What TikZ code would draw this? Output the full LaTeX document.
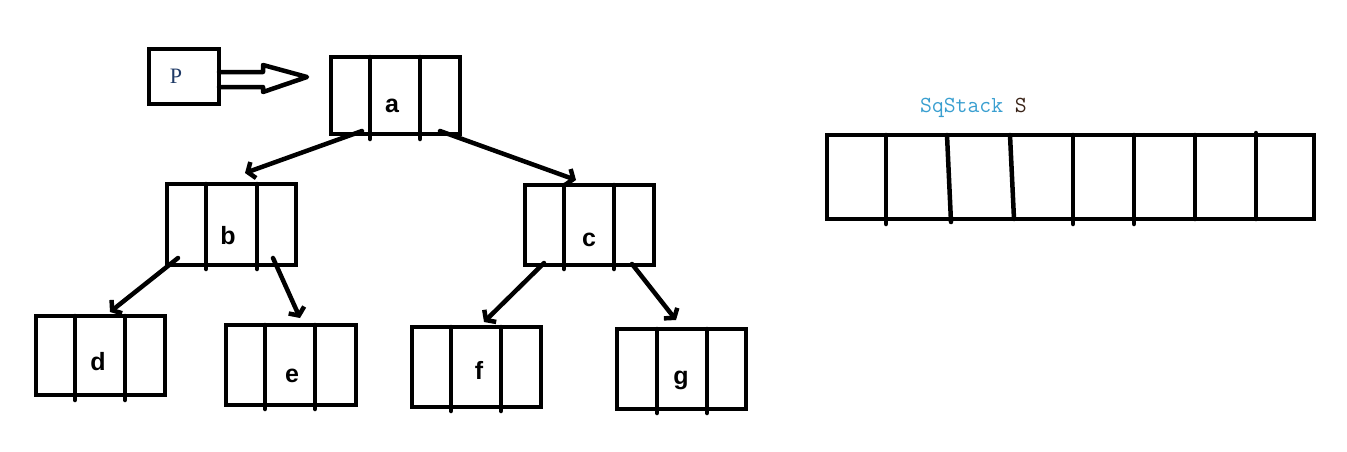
\documentclass[tikz,border=0pt]{standalone}
\usepackage{fontspec}
\setmainfont{Liberation Sans}
\newfontfamily\pfont{Liberation Serif}
\usetikzlibrary{arrows.meta}
\definecolor{stackblue}{HTML}{3A9FD0}
\definecolor{pblue}{HTML}{1F3A66}
\definecolor{sdark}{HTML}{3A2418}
\begin{document}
\begin{tikzpicture}[x=1pt,y=-1pt,
  cell/.style={draw, line width=4.5pt, inner sep=0pt, outer sep=0pt, rectangle},
  divline/.style={line width=4.5pt, line cap=round},
  lab/.style={font=\bfseries\fontsize{25}{27}\selectfont, inner sep=0pt},
  link/.style={line width=4.5pt, line cap=round, -{Straight Barb[length=6pt,width=17pt,line width=4.5pt]}}]
\useasboundingbox (0,0) rectangle (1347,451);
% P box and double arrow
\node[cell, minimum width=70pt, minimum height=55pt] (p) at (184,76.5) {};
\node[inner sep=0pt, text=pblue, font=\pfont\fontsize{22}{24}\selectfont] (plab) at (176,76) {P};
\draw[line width=4.5pt, line join=round, line cap=round] (p.east |- 0,72) -- (263,72) -- (263,65) -- (307,77) -- (263,92) -- (263,87) -- (p.east |- 0,87);
% node a
\node[cell, minimum width=129pt, minimum height=77pt] (a) at (395.5,95.5) {};
\draw[divline] (370,57) -- (370,139); \draw[divline] (420,57) -- (420,139);
\node[lab] (la) at (392,106) {a};
% node b
\node[cell, minimum width=129pt, minimum height=81pt] (b) at (231.5,224.5) {};
\draw[divline] (206,184) -- (206,269); \draw[divline] (257,184) -- (257,269);
\node[lab] (lb) at (228,236) {b};
% node c
\node[cell, minimum width=129pt, minimum height=80pt] (c) at (589.5,225) {};
\draw[divline] (564,185) -- (564,269); \draw[divline] (614,185) -- (614,269);
\node[lab] (lc) at (589,240) {c};
% node d
\node[cell, minimum width=129pt, minimum height=79pt] (d) at (100.5,355.5) {};
\draw[divline] (75,316) -- (75,400); \draw[divline] (125,316) -- (125,400);
\node[lab] (ld) at (98,362) {d};
% node e
\node[cell, minimum width=130pt, minimum height=80pt] (e) at (291,365) {};
\draw[divline] (265,325) -- (265,409); \draw[divline] (315,325) -- (315,409);
\node[lab] (le) at (292,376) {e};
% node f
\node[cell, minimum width=129pt, minimum height=80pt] (f) at (476.5,367) {};
\draw[divline] (451,327) -- (451,411); \draw[divline] (501,327) -- (501,411);
\node[lab] (lf) at (479,370) {f};
% node g
\node[cell, minimum width=129pt, minimum height=80pt] (g) at (681.5,369) {};
\draw[divline] (657,329) -- (657,413); \draw[divline] (707,329) -- (707,413);
\node[lab] (lg) at (681,380) {g};
% connectors
\coordinate (a1) at (362,131); \coordinate (a2) at (440,131);
\coordinate (b1) at (178,258); \coordinate (b2) at (273,258);
\coordinate (c1) at (544,263); \coordinate (c2) at (632,264);
\coordinate (tb) at (245,173); \coordinate (tc) at (576,180);
\coordinate (td) at (110,312); \coordinate (te) at (300,318);
\coordinate (tf) at (484,322); \coordinate (tg) at (676,320);
\draw[link] (a1) -- (tb);
\draw[link] (a2) -- (tc);
\draw[link] (b1) -- (td);
\draw[link] (b2) -- (te);
\draw[link] (c1) -- (tf);
\draw[link] (c2) -- (tg);
% stack
\node[anchor=base west, inner sep=0pt, font=\ttfamily\fontsize{23}{25}\selectfont] (st) at (920,112) {\textcolor{stackblue}{SqStack} \textcolor{sdark}{S}};
\node[cell, minimum width=487pt, minimum height=84pt] (s) at (1070.5,177) {};
\draw[divline] (886,135) -- (886,224);
\draw[divline] (947,135) -- (951,222);
\draw[divline] (1010,135) -- (1014,219);
\draw[divline] (1073,135) -- (1073,224);
\draw[divline] (1134,135) -- (1134,224);
\draw[divline] (1195,135) -- (1195,219);
\draw[divline] (1256,133) -- (1256,219);
\end{tikzpicture}
\end{document}
